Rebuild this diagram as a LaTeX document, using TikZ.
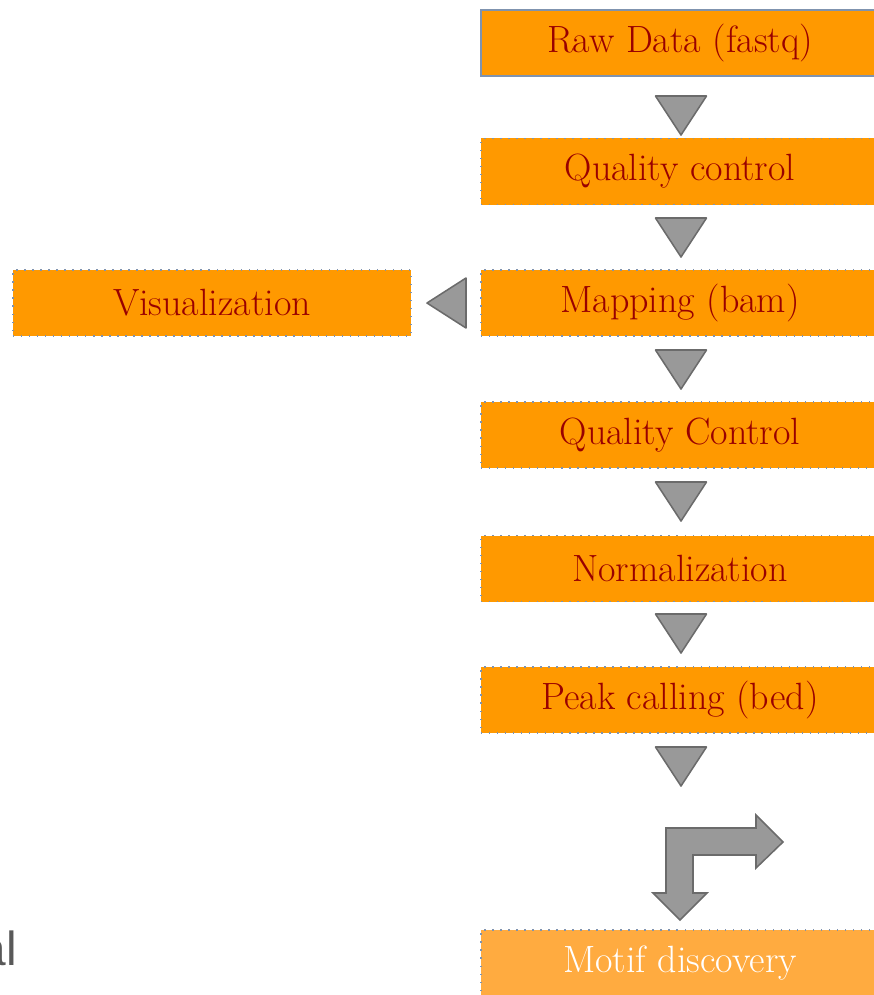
\documentclass[tikz,border=0pt]{standalone}
\usepackage{fontspec}
\newfontfamily\notefont{Liberation Sans}
\usetikzlibrary{positioning}
\definecolor{boxorange}{HTML}{FF9900}
\definecolor{boxlight}{HTML}{FFAB40}
\definecolor{boxtext}{HTML}{990000}
\definecolor{boxedge}{HTML}{7F93AF}
\definecolor{arrowgray}{HTML}{999999}
\definecolor{arrowedge}{HTML}{6B6B6B}
\definecolor{notegray}{HTML}{595959}

\tikzset{
  stage/.style={fill=boxorange, draw=boxedge, line width=0.9pt,
    dash pattern=on 1pt off 4.7pt, minimum width=9.95cm, minimum height=1.65cm,
    inner sep=0pt, text=boxtext, font=\fontsize{27}{32}\selectfont},
  tri/.style={fill=arrowgray, draw=arrowedge, line width=1.1pt, line join=round}
}

\begin{document}
\begin{tikzpicture}[x=0.025cm, y=-0.025cm]
    \useasboundingbox (0,0) rectangle (874,995);
    \clip (0,0) rectangle (874,995);

    % pipeline boxes
    \node[stage, solid] (raw) at (680,43) {Raw Data (fastq)};
    \node[stage] (qca) at (680,171.5) {Quality control};
    \node[stage] (map) at (680,303) {Mapping (bam)};
    \node[stage] (qcb) at (680,435) {Quality Control};
    \node[stage] (norm) at (680,568.5) {Normalization};
    \node[stage] (peak) at (680,700) {Peak calling (bed)};
    \node[stage, fill=boxlight, text=white] (motif) at (680,963) {Motif discovery};
    \node[stage] (vis) at (212,303) {Visualization};

    % down arrows between the steps
    \foreach \t in {96,218,350,482,614,747}
      \draw[tri] (655.5,\t) -- (706.5,\t) -- (681,\t+39) -- cycle;

    % arrow to the side box
    \draw[tri] (466,278) -- (466,328) -- (427,303) -- cycle;

    % bent arrow
    \draw[tri, line join=miter] (666,828) -- (756,828) -- (756,815) -- (783,842)
      -- (756,868) -- (756,855) -- (693,855) -- (693,893) -- (707,893)
      -- (680,920) -- (653,893) -- (666,893) -- cycle;

    \node[anchor=base east, text=notegray, inner sep=0pt,
      font=\notefont\fontsize{34}{40}\selectfont] (note) at (17,965) {al};
  \end{tikzpicture}
\end{document}
